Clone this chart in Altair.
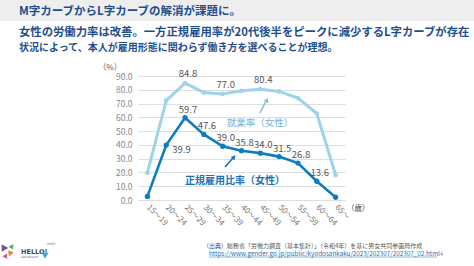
import altair as alt
import pandas as pd

# ---- data ----
ages = ["15～19", "20～24", "25～29", "30～34", "35～39", "40～44",
        "45～49", "50～54", "55～59", "60～64", "65～"]
employment = [19.8, 72.2, 84.8, 78.0, 77.0, 79.3, 80.4, 78.8, 74.0, 62.8, 18.2]
regular = [2.6, 39.9, 59.7, 47.6, 39.0, 35.8, 34.0, 31.5, 26.8, 13.6, 2.0]
employment_labelled = ["25～29", "35～39", "45～49"]
regular_labelled = ["25～29", "30～34", "35～39", "40～44", "45～49",
                    "50～54", "55～59", "60～64"]
regular_side_labelled = ["20～24"]
y_ticks = [0, 10, 20, 30, 40, 50, 60, 70, 80, 90]

title_text = "M字カーブからL字カーブの解消が課題に。"
body_line1 = "女性の労働力率は改善。一方正規雇用率が20代後半をピークに減少するL字カーブが存在"
body_line2 = "状況によって、本人が雇用形態に関わらず働き方を選べることが理想。"
emp_name = "就業率（女性）"
reg_name = "正規雇用比率（女性）"
source_text = "（出典）総務省「労働力調査（基本集計）」（令和4年）を基に男女共同参画局作成"
url_text = "https://www.gender.go.jp/public/kyodosankaku/2023/202307/202307_02.html"

JP = "Noto Sans CJK JP"
LIGHT = "#9FD3EA"
DARK = "#0F7CBF"
NAVY = "#1F4E8F"

emp_df = pd.DataFrame({"age": ages, "value": employment})
reg_df = pd.DataFrame({"age": ages, "value": regular})

x_enc = alt.X("age:O", sort=ages, title=None,
              scale=alt.Scale(type="point", padding=0.5),
              axis=alt.Axis(labelAngle=45, labelAlign="left", labelBaseline="middle",
                            labelPadding=6, labelFontSize=8, labelColor="#777777",
                            labelFont=JP, ticks=False, domain=False, grid=False,
                            labelOverlap=False))
y_enc = alt.Y("value:Q", title=None, scale=alt.Scale(domain=[0, 90]),
              axis=alt.Axis(values=y_ticks, format=".1f", labelFontSize=8.5,
                            labelColor="#888888", labelFont=JP, labelPadding=6,
                            ticks=False, domain=False, gridColor="#DEDEDE",
                            gridWidth=1, labelOverlap=False))

emp_line = alt.Chart(emp_df).mark_line(color=LIGHT, strokeWidth=3).encode(x=x_enc, y=y_enc)
emp_pts = alt.Chart(emp_df).mark_point(color=LIGHT, filled=True, size=22, opacity=1).encode(
    x=x_enc, y=y_enc)
reg_line = alt.Chart(reg_df).mark_line(color=DARK, strokeWidth=2.6).encode(x=x_enc, y=y_enc)
reg_pts = alt.Chart(reg_df).mark_point(color=DARK, filled=True, size=28, opacity=1).encode(
    x=x_enc, y=y_enc)

lbl_style = dict(fontSize=9.5, color="#555555", font=JP)
emp_lbl = alt.Chart(emp_df).transform_filter(
    alt.FieldOneOfPredicate(field="age", oneOf=employment_labelled)
).mark_text(baseline="bottom", dx=3, dy=-4, **lbl_style).encode(
    x=x_enc, y=y_enc, text=alt.Text("value:Q", format=".1f"))
reg_lbl = alt.Chart(reg_df).transform_filter(
    alt.FieldOneOfPredicate(field="age", oneOf=regular_labelled)
).mark_text(baseline="bottom", dx=3, dy=-3, **lbl_style).encode(
    x=x_enc, y=y_enc, text=alt.Text("value:Q", format=".1f"))
reg_lbl_side = alt.Chart(reg_df).transform_filter(
    alt.FieldOneOfPredicate(field="age", oneOf=regular_side_labelled)
).mark_text(align="left", baseline="middle", dx=6, dy=5, **lbl_style).encode(
    x=x_enc, y=y_enc, text=alt.Text("value:Q", format=".1f"))

one = pd.DataFrame({"k": [0]})


def txt(text, x, y, **kw):
    return alt.Chart(one).mark_text(text=text, **kw).encode(x=alt.value(x), y=alt.value(y))


def rule(x, y, x2, y2, **kw):
    return alt.Chart(one).mark_rule(**kw).encode(
        x=alt.value(x), y=alt.value(y), x2=alt.value(x2), y2=alt.value(y2))


def tri(x, y, angle, color, size):
    return alt.Chart(one).mark_point(shape="triangle-up", filled=True, color=color,
                                     size=size, angle=angle, opacity=1).encode(
        x=alt.value(x), y=alt.value(y))


header_band = alt.Chart(one).mark_rect(color="#EEEEEE").encode(
    x=alt.value(-138), x2=alt.value(336), y=alt.value(-76), y2=alt.value(-55))

layers = [
    header_band,
    txt(title_text, -119, -64, align="left", baseline="middle", font=JP,
        fontSize=11.5, fontWeight="bold", color=NAVY),
    txt(body_line1, -119, -43, align="left", baseline="middle", font=JP,
        fontSize=11.35, fontWeight="bold", color=NAVY),
    txt(body_line2, -119, -28, align="left", baseline="middle", font=JP,
        fontSize=10, fontWeight="bold", color=NAVY),
    txt("（%）", -28, -8, align="center", baseline="middle", font=JP,
        fontSize=8, color="#555555"),
    txt("（歳）", 209, 133, align="left", baseline="middle", font=JP,
        fontSize=7.5, color="#444444"),
    emp_line, reg_line, emp_pts, reg_pts, emp_lbl, reg_lbl, reg_lbl_side,
    txt(emp_name, 122, 47, align="center", baseline="middle", font=JP,
        fontSize=9.5, color="#6FB3D8"),
    txt(reg_name, 97, 105, align="center", baseline="middle", font=JP,
        fontSize=10, fontWeight="bold", color="#1672B8"),
    rule(122, 37, 128, 25, color="#7FC0E0", strokeWidth=1.6),
    tri(129, 24, 28, "#7FC0E0", 26),
    rule(87, 91, 95, 82, color="#1672B8", strokeWidth=1.6),
    tri(96, 81, 42, "#1672B8", 26),
    txt(source_text, 65, 169.5, align="left", baseline="middle", font=JP,
        fontSize=6.0, color="#555555"),
    txt(url_text, 71, 177.5, align="left", baseline="middle", font=JP,
        fontSize=6.3, color="#2E6FB5"),
    rule(71, 181, 299, 181, color="#2E6FB5", strokeWidth=0.5),
    txt("4", 302, 177.5, align="left", baseline="middle", font=JP,
        fontSize=5.5, color="#888888"),
    txt("HELLO!", -117, 176, align="left", baseline="middle", font="DejaVu Sans",
        fontSize=6.5, fontWeight="bold", color="#3A4A6B"),
    txt("OPPORTUNITY", -117, 181.5, align="left", baseline="middle", font="DejaVu Sans",
        fontSize=2.5, color="#3A4A6B"),
    tri(-133, 172, 90, "#7A4FA0", 60),
    tri(-128, 178, 200, "#E08A3C", 40),
    tri(-126, 170, 30, "#5BAF5B", 30),
    tri(-132, 181, 150, "#D9539A", 30),
    tri(-92, 178, 60, "#3BA3D8", 50),
    txt("HOPE", -91, 168, align="left", baseline="middle", font="DejaVu Sans",
        fontSize=3, color="#666666"),
]

chart = alt.layer(*layers).properties(
    width=207, height=124,
    autosize=alt.AutoSizeParams(type="none"),
    padding={"left": 138, "top": 76, "right": 129, "bottom": 66},
    background="white",
).configure_view(stroke=None)

chart.save("out.html", embed_options={"renderer": "svg", "actions": False})
